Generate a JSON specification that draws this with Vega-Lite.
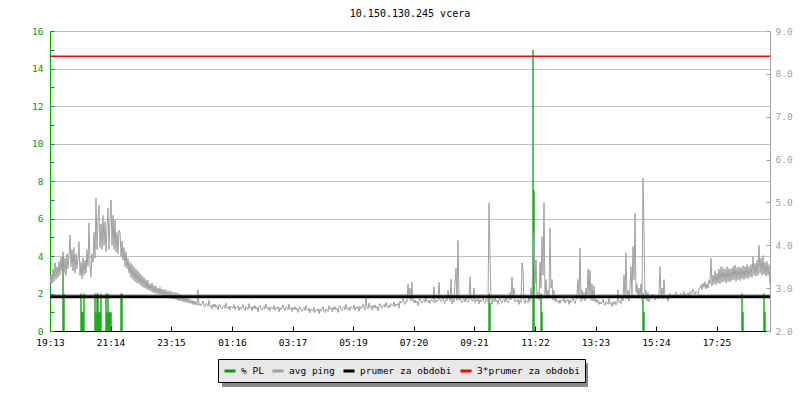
{
  "$schema": "https://vega.github.io/schema/vega-lite/v6.json",
  "width": 720,
  "height": 300,
  "autosize": {"type": "none"},
  "padding": {"left": 50, "top": 31, "right": 30, "bottom": 69},
  "background": "white",
  "title": {"text": "10.150.130.245 vcera", "font": "DejaVu Sans Mono", "fontSize": 10, "fontWeight": "normal", "color": "#000000", "anchor": "middle", "offset": 7},
  "config": {"view": {"stroke": null}},
  "datasets": {
    "ping": [
{"t":0,"p":3.05},{"t":2,"p":3.3},{"t":4,"p":3.1},{"t":6,"p":3.45},{"t":8,"p":3.15},{"t":10,"p":3.6},{"t":12,"p":3.2},{"t":14,"p":3.5},{"t":16,"p":3.25},{"t":18,"p":3.62},
{"t":20,"p":3.3},{"t":22,"p":3.72},{"t":24,"p":3.4},{"t":26,"p":3.85},{"t":28,"p":3.35},{"t":30,"p":3.7},{"t":32,"p":3.3},{"t":34,"p":3.8},{"t":36,"p":3.45},{"t":38,"p":3.75},
{"t":40,"p":4.24},{"t":42,"p":3.5},{"t":44,"p":3.9},{"t":46,"p":3.4},{"t":48,"p":3.95},{"t":50,"p":3.35},{"t":52,"p":3.8},{"t":54,"p":3.45},{"t":56,"p":3.7},{"t":58,"p":4.08},
{"t":60,"p":3.3},{"t":62,"p":3.6},{"t":64,"p":3.22},{"t":66,"p":3.7},{"t":68,"p":3.3},{"t":70,"p":3.65},{"t":72,"p":3.35},{"t":74,"p":3.9},{"t":76,"p":3.5},{"t":78,"p":4.52},
{"t":80,"p":3.55},{"t":82,"p":3.26},{"t":84,"p":3.8},{"t":86,"p":3.6},{"t":88,"p":4.3},{"t":90,"p":3.7},{"t":92,"p":5.1},{"t":94,"p":3.9},{"t":96,"p":4.6},{"t":98,"p":4.94},
{"t":100,"p":3.95},{"t":102,"p":4.5},{"t":104,"p":3.9},{"t":106,"p":4.7},{"t":108,"p":4.0},{"t":110,"p":4.55},{"t":112,"p":3.85},{"t":114,"p":4.4},{"t":116,"p":4.86},{"t":118,"p":3.9},
{"t":120,"p":4.6},{"t":122,"p":5.06},{"t":124,"p":4.0},{"t":126,"p":4.7},{"t":128,"p":3.9},{"t":130,"p":4.6},{"t":132,"p":3.85},{"t":134,"p":4.3},{"t":136,"p":3.8},{"t":138,"p":4.35},
{"t":140,"p":4.3},{"t":142,"p":3.75},{"t":144,"p":4.1},{"t":146,"p":3.65},{"t":148,"p":3.95},{"t":150,"p":3.5},{"t":152,"p":3.85},{"t":154,"p":3.45},{"t":156,"p":3.7},{"t":158,"p":3.35},
{"t":160,"p":3.6},{"t":162,"p":3.25},{"t":164,"p":3.55},{"t":166,"p":3.2},{"t":168,"p":3.5},{"t":170,"p":3.15},{"t":172,"p":3.45},{"t":174,"p":3.12},{"t":176,"p":3.4},{"t":178,"p":3.1},
{"t":180,"p":3.35},{"t":182,"p":3.05},{"t":184,"p":3.3},{"t":186,"p":3.02},{"t":188,"p":3.25},{"t":190,"p":3.0},{"t":192,"p":3.2},{"t":194,"p":2.97},{"t":196,"p":3.18},{"t":198,"p":2.95},
{"t":200,"p":3.1},{"t":202,"p":2.92},{"t":204,"p":3.12},{"t":206,"p":2.9},{"t":208,"p":3.06},{"t":210,"p":2.88},{"t":212,"p":3.05},{"t":214,"p":2.87},{"t":216,"p":3.0},{"t":218,"p":2.85},
{"t":220,"p":3.02},{"t":222,"p":2.84},{"t":224,"p":2.98},{"t":226,"p":2.82},{"t":228,"p":2.97},{"t":230,"p":2.8},{"t":232,"p":2.96},{"t":234,"p":2.8},{"t":236,"p":2.93},{"t":238,"p":2.78},
{"t":240,"p":2.94},{"t":242,"p":2.76},{"t":244,"p":2.92},{"t":246,"p":2.75},{"t":248,"p":2.9},{"t":250,"p":2.74},{"t":252,"p":2.9},{"t":254,"p":2.72},{"t":256,"p":2.88},{"t":258,"p":2.7},
{"t":260,"p":2.86},{"t":262,"p":2.7},{"t":264,"p":2.82},{"t":266,"p":2.68},{"t":268,"p":2.8},{"t":270,"p":2.67},{"t":272,"p":2.78},{"t":274,"p":2.66},{"t":276,"p":2.76},{"t":278,"p":2.65},
{"t":280,"p":2.74},{"t":282,"p":2.64},{"t":284,"p":2.72},{"t":286,"p":2.62},{"t":288,"p":2.71},{"t":290,"p":2.61},{"t":292,"p":2.69},{"t":294,"p":2.6},{"t":296,"p":2.96},{"t":298,"p":2.6},
{"t":300,"p":2.64},{"t":302,"p":2.59},{"t":304,"p":2.63},{"t":306,"p":2.70},{"t":308,"p":2.60},{"t":310,"p":2.56},{"t":312,"p":2.65},{"t":314,"p":2.62},{"t":316,"p":2.58},{"t":318,"p":2.72},
{"t":320,"p":2.57},{"t":322,"p":2.60},{"t":324,"p":2.51},{"t":326,"p":2.62},{"t":328,"p":2.56},{"t":330,"p":2.63},{"t":332,"p":2.55},{"t":334,"p":2.59},{"t":336,"p":2.49},{"t":338,"p":2.61},
{"t":340,"p":2.62},{"t":342,"p":2.54},{"t":344,"p":2.51},{"t":346,"p":2.57},{"t":348,"p":2.60},{"t":350,"p":2.53},{"t":352,"p":2.65},{"t":354,"p":2.55},{"t":356,"p":2.52},{"t":358,"p":2.58},
{"t":360,"p":2.49},{"t":362,"p":2.58},{"t":364,"p":2.56},{"t":366,"p":2.53},{"t":368,"p":2.62},{"t":370,"p":2.50},{"t":372,"p":2.57},{"t":374,"p":2.54},{"t":376,"p":2.59},{"t":378,"p":2.47},
{"t":380,"p":2.56},{"t":382,"p":2.51},{"t":384,"p":2.55},{"t":386,"p":2.62},{"t":388,"p":2.52},{"t":390,"p":2.48},{"t":392,"p":2.57},{"t":394,"p":2.54},{"t":396,"p":2.50},{"t":398,"p":2.64},
{"t":400,"p":2.53},{"t":402,"p":2.56},{"t":404,"p":2.47},{"t":406,"p":2.58},{"t":408,"p":2.52},{"t":410,"p":2.59},{"t":412,"p":2.51},{"t":414,"p":2.55},{"t":416,"p":2.45},{"t":418,"p":2.57},
{"t":420,"p":2.60},{"t":422,"p":2.52},{"t":424,"p":2.49},{"t":426,"p":2.55},{"t":428,"p":2.58},{"t":430,"p":2.51},{"t":432,"p":2.63},{"t":434,"p":2.53},{"t":436,"p":2.50},{"t":438,"p":2.56},
{"t":440,"p":2.47},{"t":442,"p":2.56},{"t":444,"p":2.54},{"t":446,"p":2.51},{"t":448,"p":2.60},{"t":450,"p":2.48},{"t":452,"p":2.55},{"t":454,"p":2.52},{"t":456,"p":2.57},{"t":458,"p":2.45},
{"t":460,"p":2.55},{"t":462,"p":2.50},{"t":464,"p":2.54},{"t":466,"p":2.61},{"t":468,"p":2.51},{"t":470,"p":2.47},{"t":472,"p":2.56},{"t":474,"p":2.53},{"t":476,"p":2.49},{"t":478,"p":2.63},
{"t":480,"p":2.51},{"t":482,"p":2.54},{"t":484,"p":2.45},{"t":486,"p":2.56},{"t":488,"p":2.50},{"t":490,"p":2.57},{"t":492,"p":2.49},{"t":494,"p":2.53},{"t":496,"p":2.43},{"t":498,"p":2.55},
{"t":500,"p":2.57},{"t":502,"p":2.49},{"t":504,"p":2.46},{"t":506,"p":2.52},{"t":508,"p":2.55},{"t":510,"p":2.48},{"t":512,"p":2.60},{"t":514,"p":2.50},{"t":516,"p":2.47},{"t":518,"p":2.53},
{"t":520,"p":2.42},{"t":522,"p":2.51},{"t":524,"p":2.49},{"t":526,"p":2.46},{"t":528,"p":2.55},{"t":530,"p":2.43},{"t":532,"p":2.50},{"t":534,"p":2.47},{"t":536,"p":2.52},{"t":538,"p":2.40},
{"t":540,"p":2.51},{"t":542,"p":2.46},{"t":544,"p":2.50},{"t":546,"p":2.57},{"t":548,"p":2.47},{"t":550,"p":2.43},{"t":552,"p":2.52},{"t":554,"p":2.49},{"t":556,"p":2.45},{"t":558,"p":2.59},
{"t":560,"p":2.51},{"t":562,"p":2.54},{"t":564,"p":2.45},{"t":566,"p":2.56},{"t":568,"p":2.50},{"t":570,"p":2.57},{"t":572,"p":2.49},{"t":574,"p":2.53},{"t":576,"p":2.43},{"t":578,"p":2.55},
{"t":580,"p":2.59},{"t":582,"p":2.51},{"t":584,"p":2.48},{"t":586,"p":2.54},{"t":588,"p":2.57},{"t":590,"p":2.50},{"t":592,"p":2.62},{"t":594,"p":2.52},{"t":596,"p":2.49},{"t":598,"p":2.55},
{"t":600,"p":2.48},{"t":602,"p":2.57},{"t":604,"p":2.55},{"t":606,"p":2.52},{"t":608,"p":2.61},{"t":610,"p":2.49},{"t":612,"p":2.56},{"t":614,"p":2.53},{"t":616,"p":2.58},{"t":618,"p":2.46},
{"t":620,"p":2.57},{"t":622,"p":2.52},{"t":624,"p":2.56},{"t":626,"p":2.63},{"t":628,"p":2.53},{"t":630,"p":2.49},{"t":632,"p":2.78},{"t":634,"p":2.55},{"t":636,"p":2.51},{"t":638,"p":2.65},
{"t":640,"p":2.55},{"t":642,"p":2.58},{"t":644,"p":2.49},{"t":646,"p":2.60},{"t":648,"p":2.54},{"t":650,"p":2.61},{"t":652,"p":2.53},{"t":654,"p":2.57},{"t":656,"p":2.47},{"t":658,"p":2.59},
{"t":660,"p":2.64},{"t":662,"p":2.56},{"t":664,"p":2.53},{"t":666,"p":2.59},{"t":668,"p":2.62},{"t":670,"p":2.55},{"t":672,"p":2.67},{"t":674,"p":2.57},{"t":676,"p":2.54},{"t":678,"p":2.60},
{"t":680,"p":2.55},{"t":682,"p":2.64},{"t":684,"p":2.62},{"t":686,"p":2.59},{"t":688,"p":2.68},{"t":690,"p":2.56},{"t":692,"p":2.63},{"t":694,"p":2.60},{"t":696,"p":2.65},{"t":698,"p":2.53},
{"t":700,"p":2.70},{"t":702,"p":2.65},{"t":704,"p":2.69},{"t":706,"p":2.76},{"t":708,"p":2.66},{"t":710,"p":2.62},{"t":712,"p":2.71},{"t":714,"p":2.68},{"t":716,"p":3.10},{"t":718,"p":2.78},
{"t":720,"p":3.00},{"t":722,"p":2.70},{"t":724,"p":3.14},{"t":726,"p":2.72},{"t":728,"p":2.66},{"t":730,"p":2.73},{"t":732,"p":2.65},{"t":734,"p":2.69},{"t":736,"p":2.59},{"t":738,"p":2.71},
{"t":740,"p":2.76},{"t":742,"p":2.68},{"t":744,"p":2.65},{"t":746,"p":2.71},{"t":748,"p":2.74},{"t":750,"p":2.67},{"t":752,"p":2.79},{"t":754,"p":2.69},{"t":756,"p":2.66},{"t":758,"p":2.72},
{"t":760,"p":2.64},{"t":762,"p":2.73},{"t":764,"p":2.71},{"t":766,"p":2.68},{"t":768,"p":3.03},{"t":770,"p":2.65},{"t":772,"p":2.72},{"t":774,"p":2.69},{"t":776,"p":2.74},{"t":778,"p":3.14},
{"t":780,"p":2.72},{"t":782,"p":2.68},{"t":784,"p":2.72},{"t":786,"p":2.79},{"t":788,"p":2.69},{"t":790,"p":2.65},{"t":792,"p":2.74},{"t":794,"p":2.70},{"t":796,"p":2.95},{"t":798,"p":2.80},
{"t":800,"p":2.69},{"t":802,"p":3.21},{"t":804,"p":2.63},{"t":806,"p":2.74},{"t":808,"p":2.68},{"t":810,"p":3.10},{"t":812,"p":3.47},{"t":814,"p":2.71},{"t":816,"p":4.11},{"t":818,"p":2.73},
{"t":820,"p":2.77},{"t":822,"p":2.69},{"t":824,"p":2.66},{"t":826,"p":2.72},{"t":828,"p":2.75},{"t":830,"p":2.68},{"t":832,"p":2.80},{"t":834,"p":2.70},{"t":836,"p":2.67},{"t":838,"p":2.73},
{"t":840,"p":3.26},{"t":842,"p":2.74},{"t":844,"p":2.72},{"t":846,"p":2.69},{"t":848,"p":3.00},{"t":850,"p":2.66},{"t":852,"p":2.73},{"t":854,"p":2.70},{"t":856,"p":2.75},{"t":858,"p":2.63},
{"t":860,"p":2.73},{"t":862,"p":2.68},{"t":864,"p":2.72},{"t":866,"p":2.79},{"t":868,"p":2.69},{"t":870,"p":2.65},{"t":872,"p":2.74},{"t":874,"p":2.71},{"t":876,"p":2.67},{"t":878,"p":4.99},
{"t":880,"p":3.75},{"t":882,"p":2.70},{"t":884,"p":2.63},{"t":886,"p":2.75},{"t":888,"p":2.69},{"t":890,"p":2.76},{"t":892,"p":2.68},{"t":894,"p":2.72},{"t":896,"p":2.62},{"t":898,"p":2.74},
{"t":900,"p":2.76},{"t":902,"p":2.68},{"t":904,"p":2.65},{"t":906,"p":2.71},{"t":908,"p":2.74},{"t":910,"p":2.67},{"t":912,"p":2.79},{"t":914,"p":2.69},{"t":916,"p":2.66},{"t":918,"p":2.72},
{"t":920,"p":2.90},{"t":922,"p":2.73},{"t":924,"p":3.26},{"t":926,"p":2.80},{"t":928,"p":3.00},{"t":930,"p":2.68},{"t":932,"p":2.72},{"t":934,"p":2.69},{"t":936,"p":2.74},{"t":938,"p":2.62},
{"t":940,"p":2.72},{"t":942,"p":2.67},{"t":944,"p":3.59},{"t":946,"p":3.45},{"t":948,"p":2.68},{"t":950,"p":2.64},{"t":952,"p":2.73},{"t":954,"p":2.70},{"t":956,"p":2.66},{"t":958,"p":2.80},
{"t":960,"p":2.69},{"t":962,"p":3.00},{"t":964,"p":2.80},{"t":966,"p":3.66},{"t":968,"p":4.29},{"t":970,"p":3.10},{"t":972,"p":3.66},{"t":974,"p":2.75},{"t":976,"p":2.90},{"t":978,"p":2.72},
{"t":980,"p":3.60},{"t":982,"p":3.00},{"t":984,"p":4.20},{"t":986,"p":3.30},{"t":988,"p":4.99},{"t":990,"p":2.85},{"t":992,"p":3.20},{"t":994,"p":2.75},{"t":996,"p":2.95},{"t":998,"p":2.80},
{"t":1000,"p":4.40},{"t":1002,"p":3.00},{"t":1004,"p":3.20},{"t":1006,"p":2.72},{"t":1008,"p":2.95},{"t":1010,"p":2.68},{"t":1012,"p":2.76},{"t":1014,"p":2.69},{"t":1016,"p":2.66},{"t":1018,"p":2.72},
{"t":1020,"p":2.64},{"t":1022,"p":2.73},{"t":1024,"p":2.71},{"t":1026,"p":2.68},{"t":1028,"p":2.77},{"t":1030,"p":2.65},{"t":1032,"p":2.72},{"t":1034,"p":2.69},{"t":1036,"p":2.74},{"t":1038,"p":2.62},
{"t":1040,"p":2.72},{"t":1042,"p":2.67},{"t":1044,"p":2.71},{"t":1046,"p":2.78},{"t":1048,"p":2.68},{"t":1050,"p":2.64},{"t":1052,"p":2.73},{"t":1054,"p":2.90},{"t":1056,"p":3.20},{"t":1058,"p":2.80},
{"t":1060,"p":3.94},{"t":1062,"p":2.69},{"t":1064,"p":2.95},{"t":1066,"p":2.74},{"t":1068,"p":2.90},{"t":1070,"p":2.70},{"t":1072,"p":3.00},{"t":1074,"p":2.75},{"t":1076,"p":3.45},{"t":1078,"p":2.80},
{"t":1080,"p":3.42},{"t":1082,"p":2.72},{"t":1084,"p":3.10},{"t":1086,"p":2.70},{"t":1088,"p":3.05},{"t":1090,"p":2.68},{"t":1092,"p":2.75},{"t":1094,"p":2.67},{"t":1096,"p":2.72},{"t":1098,"p":2.62},
{"t":1100,"p":2.68},{"t":1102,"p":2.63},{"t":1104,"p":2.67},{"t":1106,"p":2.74},{"t":1108,"p":2.64},{"t":1110,"p":2.60},{"t":1112,"p":2.69},{"t":1114,"p":2.66},{"t":1116,"p":2.62},{"t":1118,"p":2.76},
{"t":1120,"p":2.63},{"t":1122,"p":2.66},{"t":1124,"p":2.57},{"t":1126,"p":2.68},{"t":1128,"p":2.62},{"t":1130,"p":2.69},{"t":1132,"p":2.61},{"t":1134,"p":2.65},{"t":1136,"p":2.96},{"t":1138,"p":2.67},
{"t":1140,"p":2.70},{"t":1142,"p":2.64},{"t":1144,"p":2.82},{"t":1146,"p":2.70},{"t":1148,"p":3.30},{"t":1150,"p":2.80},{"t":1152,"p":3.82},{"t":1154,"p":2.75},{"t":1156,"p":2.95},{"t":1158,"p":2.70},
{"t":1160,"p":3.00},{"t":1162,"p":3.50},{"t":1164,"p":2.80},{"t":1166,"p":3.97},{"t":1168,"p":3.20},{"t":1170,"p":4.75},{"t":1172,"p":2.90},{"t":1174,"p":3.10},{"t":1176,"p":2.75},{"t":1178,"p":3.00},
{"t":1180,"p":2.80},{"t":1182,"p":3.10},{"t":1184,"p":2.72},{"t":1186,"p":5.57},{"t":1188,"p":4.35},{"t":1190,"p":2.75},{"t":1192,"p":2.95},{"t":1194,"p":2.70},{"t":1196,"p":2.90},{"t":1198,"p":2.68},
{"t":1200,"p":2.80},{"t":1202,"p":2.75},{"t":1204,"p":2.79},{"t":1206,"p":2.86},{"t":1208,"p":2.76},{"t":1210,"p":2.72},{"t":1212,"p":2.81},{"t":1214,"p":2.78},{"t":1216,"p":2.74},{"t":1218,"p":2.88},
{"t":1220,"p":3.50},{"t":1222,"p":2.80},{"t":1224,"p":3.00},{"t":1226,"p":2.75},{"t":1228,"p":3.20},{"t":1230,"p":2.83},{"t":1232,"p":2.75},{"t":1234,"p":2.79},{"t":1236,"p":2.69},{"t":1238,"p":2.81},
{"t":1240,"p":2.88},{"t":1242,"p":2.80},{"t":1244,"p":2.77},{"t":1246,"p":2.83},{"t":1248,"p":2.86},{"t":1250,"p":2.79},{"t":1252,"p":2.91},{"t":1254,"p":2.81},{"t":1256,"p":2.78},{"t":1258,"p":2.84},
{"t":1260,"p":2.79},{"t":1262,"p":2.88},{"t":1264,"p":2.86},{"t":1266,"p":2.83},{"t":1268,"p":2.92},{"t":1270,"p":2.80},{"t":1272,"p":2.87},{"t":1274,"p":2.84},{"t":1276,"p":2.89},{"t":1278,"p":2.77},
{"t":1280,"p":2.92},{"t":1282,"p":2.87},{"t":1284,"p":2.91},{"t":1286,"p":2.98},{"t":1288,"p":2.88},{"t":1290,"p":2.84},{"t":1292,"p":2.93},{"t":1294,"p":2.90},{"t":1296,"p":2.86},{"t":1298,"p":3.00},
{"t":1300,"p":3.0},{"t":1302,"p":3.08},{"t":1304,"p":2.96},{"t":1306,"p":3.12},{"t":1308,"p":3.02},{"t":1310,"p":3.15},{"t":1312,"p":2.98},{"t":1314,"p":3.1},{"t":1316,"p":3.0},{"t":1318,"p":3.2},
{"t":1320,"p":3.1},{"t":1322,"p":3.7},{"t":1324,"p":3.05},{"t":1326,"p":3.3},{"t":1328,"p":3.1},{"t":1330,"p":3.4},{"t":1332,"p":3.08},{"t":1334,"p":3.35},{"t":1336,"p":3.12},{"t":1338,"p":3.45},
{"t":1340,"p":3.1},{"t":1342,"p":3.5},{"t":1344,"p":3.14},{"t":1346,"p":3.48},{"t":1348,"p":3.15},{"t":1350,"p":3.44},{"t":1352,"p":3.12},{"t":1354,"p":3.5},{"t":1356,"p":3.16},{"t":1358,"p":3.46},
{"t":1360,"p":3.14},{"t":1362,"p":3.45},{"t":1364,"p":3.18},{"t":1366,"p":3.5},{"t":1368,"p":3.2},{"t":1370,"p":3.54},{"t":1372,"p":3.16},{"t":1374,"p":3.48},{"t":1376,"p":3.2},{"t":1378,"p":3.5},
{"t":1380,"p":3.18},{"t":1382,"p":3.48},{"t":1384,"p":3.22},{"t":1386,"p":3.52},{"t":1388,"p":3.2},{"t":1390,"p":3.5},{"t":1392,"p":3.24},{"t":1394,"p":3.55},{"t":1396,"p":3.22},{"t":1398,"p":3.5},
{"t":1400,"p":3.26},{"t":1402,"p":3.55},{"t":1404,"p":3.25},{"t":1406,"p":3.75},{"t":1408,"p":3.3},{"t":1410,"p":3.58},{"t":1412,"p":3.28},{"t":1414,"p":3.65},{"t":1416,"p":3.3},{"t":1418,"p":4.0},
{"t":1420,"p":3.35},{"t":1422,"p":3.7},{"t":1424,"p":3.3},{"t":1426,"p":3.76},{"t":1428,"p":3.32},{"t":1430,"p":3.6},{"t":1432,"p":3.28},{"t":1434,"p":3.62},{"t":1436,"p":3.3},{"t":1438,"p":3.55},
{"t":1440,"p":3.07}
    ],
    "pl": [
      {"t":26,"pl":4},{"t":28,"pl":2},
      {"t":62,"pl":2},{"t":64,"pl":1},{"t":66,"pl":1},{"t":68,"pl":2},
      {"t":90,"pl":2},{"t":92,"pl":1},{"t":94,"pl":2},
      {"t":96,"pl":2},{"t":98,"pl":1},{"t":100,"pl":1},{"t":102,"pl":2},
      {"t":112,"pl":2},{"t":114,"pl":1},{"t":116,"pl":2},{"t":118,"pl":1},{"t":120,"pl":1},
      {"t":122,"pl":1},
      {"t":142,"pl":2},{"t":144,"pl":2},
      {"t":878,"pl":2},{"t":880,"pl":1.5},
      {"t":966,"pl":15},{"t":968,"pl":7.5},
      {"t":982,"pl":2},{"t":984,"pl":1},
      {"t":1186,"pl":2},{"t":1188,"pl":1},
      {"t":1384,"pl":2},{"t":1386,"pl":1},
      {"t":1428,"pl":2},{"t":1430,"pl":1}
    ],
    "avg": [{"name":"prumer za obdobi","v":2.8}],
    "avg3": [{"name":"3*prumer za obdobi","v":8.41}]
  },
  "layer": [
    {
      "data": {"name": "pl"},
      "mark": {"type": "rule", "strokeWidth": 1.3},
      "encoding": {
        "x": {
          "field": "t", "type": "quantitative",
          "scale": {"domain": [0, 1440], "nice": false, "zero": false},
          "axis": {
            "title": null, "grid": false,
            "values": [0, 121, 242, 364, 485, 606, 727, 848, 970, 1091, 1212, 1333],
            "labelExpr": "['19:13','21:14','23:15','01:16','03:17','05:19','07:20','09:21','11:22','13:23','15:24','17:25'][round(datum.value/121.1)]",
            "labelFont": "DejaVu Sans Mono", "labelFontSize": 9.5, "labelColor": "#000000",
            "domainColor": "#000000", "domainWidth": 1, "tickColor": "#000000", "tickSize": -5,
            "labelPadding": 11, "labelFlush": false, "labelOverlap": false
          }
        },
        "y": {
          "field": "pl", "type": "quantitative",
          "scale": {"domain": [0, 16], "nice": false, "zero": true},
          "axis": {
            "title": null, "orient": "left",
            "values": [0,1,2,3,4,5,6,7,8,9,10,11,12,13,14,15,16],
            "labelExpr": "datum.value % 2 == 0 ? datum.label : ''",
            "labelFont": "DejaVu Sans Mono", "labelFontSize": 9.5, "labelColor": "#00a000",
            "domainColor": "#00a000", "tickColor": "#00a000", "tickSize": -4, "labelPadding": 11,
            "grid": true, "gridColor": "#c0c0c0",
            "gridOpacity": {"condition": {"test": "datum.value % 2 == 1", "value": 0}, "value": 1},
            "labelOverlap": false
          }
        },
        "y2": {"datum": 0},
        "color": {
          "datum": "% PL", "type": "nominal",
          "scale": {"domain": ["% PL", "avg ping", "prumer za obdobi", "3*prumer za obdobi"], "range": ["#00a000", "#a0a0a0", "#000000", "#ff0000"]},
          "legend": {
            "title": null, "orient": "none", "legendX": 168, "legendY": 328, "direction": "horizontal", "columns": 4,
            "symbolType": "stroke", "symbolStrokeWidth": 3, "symbolSize": 121,
            "labelFont": "monospace", "labelFontSize": 9.5, "labelColor": "#000000",
            "fillColor": "#e8e8e8", "strokeColor": "#000000", "padding": 5, "columnPadding": 2, "labelOffset": 4, "zindex": 2
          }
        }
      }
    },
    {
      "layer": [
        {
          "data": {"name": "ping"},
          "mark": {"type": "line", "interpolate": "linear", "strokeWidth": 1},
          "encoding": {
            "x": {"field": "t", "type": "quantitative"},
            "y": {
              "field": "p", "type": "quantitative",
              "scale": {"domain": [2, 9], "nice": false, "zero": false},
              "axis": {
                "title": null, "orient": "right",
                "values": [2,2.5,3,3.5,4,4.5,5,5.5,6,6.5,7,7.5,8,8.5,9],
                "labelExpr": "datum.value % 1 == 0 ? format(datum.value, '.1f') : ''",
                "labelFont": "DejaVu Sans Mono", "labelFontSize": 9.5, "labelColor": "#a0a0a0",
                "domainColor": "#a0a0a0", "tickColor": "#a0a0a0", "tickSize": -4, "labelPadding": 9,
                "grid": false, "labelOverlap": false
              }
            },
            "color": {"datum": "avg ping", "type": "nominal"}
          }
        },
        {
          "data": {"name": "avg"},
          "mark": {"type": "rule", "strokeWidth": 3},
          "encoding": {
            "y": {"field": "v", "type": "quantitative", "title": null},
            "stroke": {
              "field": "v", "type": "quantitative",
              "scale": {"domain": [0, 10], "range": ["#000000", "#000000"]},
              "legend": {
                "title": null, "orient": "none", "legendX": 172, "legendY": 332, "direction": "horizontal",
                "gradientLength": 366, "gradientThickness": 24, "gradientStrokeWidth": 0,
                "labelExpr": "''", "padding": 0, "zindex": 1,
                "encode": {"gradient": {"update": {"fill": {"value": "#888888"}, "opacity": {"value": 1}}}}
              }
            }
          }
        },
        {
          "data": {"name": "avg3"},
          "mark": {"type": "rule", "strokeWidth": 1.5},
          "encoding": {
            "y": {"field": "v", "type": "quantitative", "title": null},
            "color": {"datum": "3*prumer za obdobi", "type": "nominal"}
          }
        }
      ]
    }
  ],
  "resolve": {"scale": {"y": "independent"}}
}
